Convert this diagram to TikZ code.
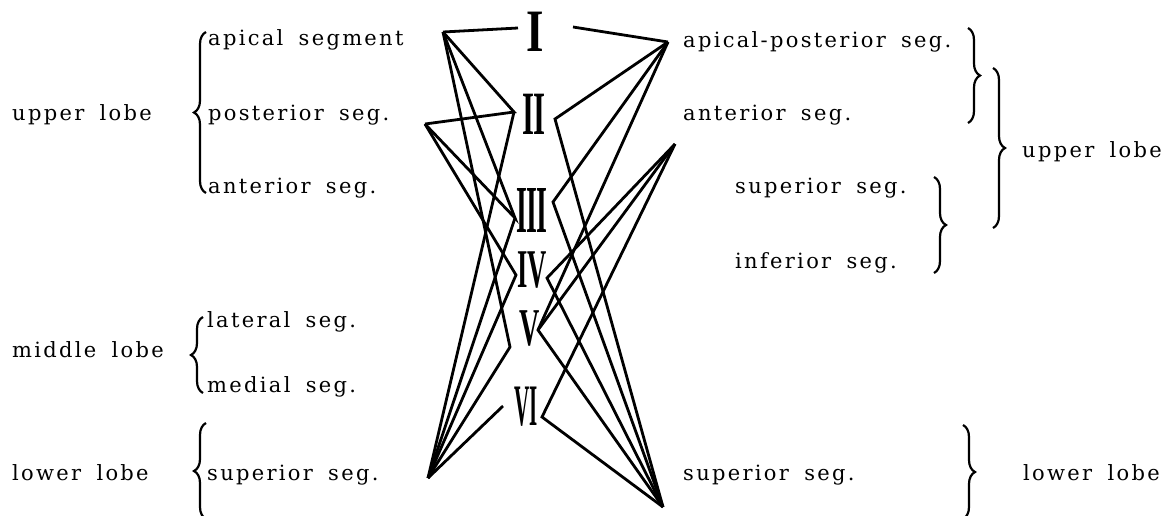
\documentclass[tikz,border=0pt]{standalone}
\usepackage{graphicx}
\usepackage{fontspec}
\setmainfont{DejaVu Serif}[LetterSpace=11, WordSpace=1.7]
\newfontfamily\numfont{Liberation Serif}[LetterSpace=-4]
\usetikzlibrary{decorations.pathreplacing}
\tikzset{
  lbl/.style={anchor=base west, inner sep=0pt, font=\fontsize{21}{25}\selectfont},
  num/.style={inner sep=0pt, font=\fontsize{28}{32}\numfont\bfseries},
  conn/.style={line width=2.8pt, line join=miter},
  brc/.style={decorate, decoration={brace, amplitude=12pt}, line width=2.2pt},
}
\begin{document}
\begin{tikzpicture}[x=1pt,y=-1pt]
\useasboundingbox (0,0) rectangle (1173,515);
% left labels
\node[lbl] (ul) at (12,120) {upper lobe};
\node[lbl] (aps) at (208,45) {apical segment};
\node[lbl] (pos) at (208,120) {posterior seg.};
\node[lbl] (ans) at (208,193) {anterior seg.};
\node[lbl] (ml) at (12,357) {middle lobe};
\node[lbl] (lat) at (207,327) {lateral seg.};
\node[lbl] (med) at (207,392) {medial seg.};
\node[lbl] (ll) at (12,480) {lower lobe};
\node[lbl] (sup) at (207,480) {superior seg.};
% right labels
\node[lbl] (raps) at (683,47) {apical-posterior seg.};
\node[lbl] (rans) at (683,120) {anterior seg.};
\node[lbl] (rul) at (1022,157) {upper lobe};
\node[lbl] (rsup) at (735,193) {superior seg.};
\node[lbl] (rinf) at (735,268) {inferior seg.};
\node[lbl] (rlsup) at (683,480) {superior seg.};
\node[lbl] (rll) at (1023,480) {lower lobe};
% braces
\draw[brc] (206,193) -- (206,32);
\draw[brc] (203,393) -- (203,317);
\draw[brc] (206,519) -- (206,423);
\draw[brc] (968,28) -- (968,123);
\draw[brc] (993,68) -- (993,228);
\draw[brc] (934,177) -- (934,273);
\draw[brc] (963,425) -- (963,519);
% numerals
\node[num] (n1) at (535,32) {\scalebox{1.6}[2.15]{I}};
\node[num] (n2) at (534,114) {\scalebox{1.1}[2.2]{II}};
\node[num] (n3) at (532,210) {\scalebox{1}[2.4]{III}};
\node[num] (n4) at (532,270) {\scalebox{0.95}[1.95]{IV}};
\node[num] (n5) at (530,328) {\scalebox{1}[1.9]{V}};
\node[num] (n6) at (526,407) {\scalebox{0.75}[2.1]{VI}};
% hubs
\coordinate (LA) at (443,32);
\coordinate (LP) at (425,124);
\coordinate (LS) at (428,478);
\coordinate (RA) at (668,42);
\coordinate (RB) at (675,144);
\coordinate (RS) at (663,507);
% numeral vertices
\coordinate (L1) at (518,28);
\coordinate (L2) at (514,112);
\coordinate (L3) at (515,218);
\coordinate (L4) at (516,275);
\coordinate (L5) at (510,347);
\coordinate (L6) at (503,406);
\coordinate (R1) at (573,27);
\coordinate (R2) at (555,119);
\coordinate (R3) at (553,202);
\coordinate (R4) at (547,278);
\coordinate (R5) at (538,330);
\coordinate (R6) at (542,417);
% connectors left
\draw[conn] (LA) -- (L1);
\draw[conn] (LA) -- (L2) -- (LP);
\draw[conn] (LA) -- (L3) -- (LP);
\draw[conn] (LA) -- (L5) -- (LS);
\draw[conn] (LP) -- (L4) -- (LS);
\draw[conn] (L2) -- (LS);
\draw[conn] (L3) -- (LS);
\draw[conn] (L6) -- (LS);
% connectors right
\draw[conn] (RA) -- (R1);
\draw[conn] (RA) -- (R2) -- (RS);
\draw[conn] (RA) -- (R3) -- (RS);
\draw[conn] (RA) -- (R5) -- (RS);
\draw[conn] (RB) -- (R4) -- (RS);
\draw[conn] (RB) -- (R5);
\draw[conn] (RB) -- (R6) -- (RS);
\end{tikzpicture}
\end{document}
